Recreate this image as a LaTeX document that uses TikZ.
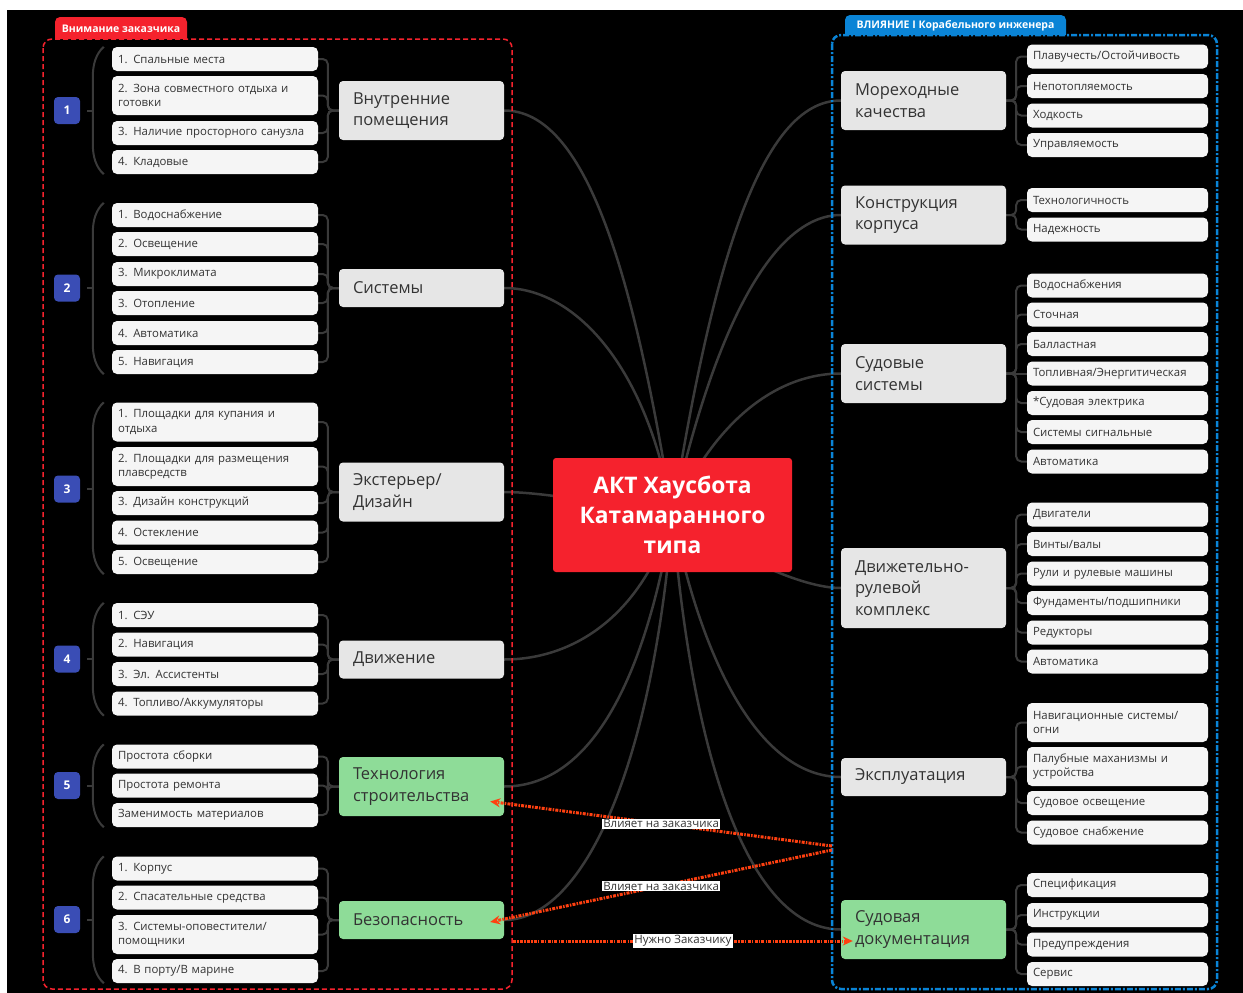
\documentclass[tikz,border=0pt]{standalone}
\usepackage{fontspec}
\setmainfont{Open Sans}
\usetikzlibrary{calc,arrows.meta}
\pgfdeclarelayer{bgl}
\pgfdeclarelayer{lines}
\pgfsetlayers{bgl,lines,main}
\definecolor{itemfill}{HTML}{F5F5F5}
\definecolor{catfill}{HTML}{E6E6E6}
\definecolor{greenfill}{HTML}{8EDC98}
\definecolor{txt}{HTML}{333333}
\definecolor{linec}{HTML}{3A3A3A}
\definecolor{badgeblue}{HTML}{3A4DB5}
\definecolor{redc}{HTML}{F5222D}
\definecolor{bluec}{HTML}{0A84D6}
\definecolor{relc}{HTML}{FF4010}
\tikzset{
  item/.style={fill=itemfill, rounded corners=5pt, minimum width=206pt, minimum height=24pt,
    text width=194pt, inner xsep=6pt, inner ysep=2pt, align=left,
    font=\fontsize{11.4}{14.5}\selectfont, text=txt},
  itemtwo/.style={item, minimum height=39pt},
  ritem/.style={item, minimum width=181pt, text width=169pt},
  ritemtwo/.style={ritem, minimum height=39pt},
  cat/.style={fill=catfill, rounded corners=4pt, minimum width=165pt, minimum height=38pt,
    text width=137pt, inner xsep=14pt, inner ysep=3pt, align=left,
    font=\fontsize{16.5}{21.5}\selectfont, text=txt},
  cattwo/.style={cat, minimum height=59pt},
  catg/.style={cat, fill=greenfill},
  catgtwo/.style={cattwo, fill=greenfill},
  badge/.style={fill=badgeblue, rounded corners=4pt, minimum width=26pt, minimum height=27pt,
    text=white, font=\fontsize{12}{14}\selectfont\bfseries, inner sep=0pt},
  conn/.style={draw=linec, line width=2pt, rounded corners=5pt},
  brk/.style={draw=linec, line width=2pt},
  branch/.style={draw=linec, line width=2.5pt},
  rel/.style={draw=relc, line width=3pt, dash pattern=on 3pt off 1.2pt on 1.5pt off 1.2pt,
    -{Stealth[length=10pt,width=9pt]}},
  rellab/.style={fill=white, text=txt, font=\fontsize{11.5}{13}\selectfont, inner xsep=1.5pt, inner ysep=1pt},
  tabtext/.style={text=white, font=\fontsize{10.5}{12}\selectfont\bfseries, inner sep=0pt}
}
\begin{document}
\begin{tikzpicture}[x=1pt,y=-1pt]
\useasboundingbox (0,0) rectangle (1243,993);
\begin{pgfonlayer}{bgl}
\fill[white] (0,0) rectangle (1243,993);
\fill[black] (7,10) rectangle (1243,993);
\end{pgfonlayer}

% frames and tabs
\draw[draw=redc, line width=1.5pt, dash pattern=on 5pt off 3pt, rounded corners=9pt] (43,39) rectangle (512,989);
\fill[redc, rounded corners=5pt] (55,39) -- (55,17) -- (187,17) -- (187,39);
\node[tabtext] (tabL) at (121,28.5) {Внимание заказчика};
\draw[draw=bluec, line width=2.5pt, dash pattern=on 6pt off 2pt on 2pt off 2pt, rounded corners=9pt] (832,35) rectangle (1217,989);
\fill[bluec, rounded corners=5pt] (845,35) -- (845,15) -- (1066,15) -- (1066,35);
\node[tabtext] (tabR) at (955.5,26) {ВЛИЯНИЕ I Корабельного инженера};

% central
\node[fill=redc, rounded corners=3pt, minimum width=239pt, minimum height=114pt, text=white,
  font=\fontsize{22.8}{30}\selectfont\bfseries, align=center] (ctr) at (672.5,515) {АКТ Хаусбота\\Катамаранного\\типа};

% left categories
\node[cattwo] (c1) at (421.5,110.5) {Внутренние\\помещения};
\node[cat] (c2) at (421.5,288) {Системы};
\node[cattwo] (c3) at (421.5,492) {Экстерьер/\\Дизайн};
\node[cat] (c4) at (421.5,659.5) {Движение};
\node[catgtwo] (c5) at (421.5,786.5) {Технология\\строительства};
\node[catg] (c6) at (421.5,920) {Безопасность};

% badges
\node[badge] (b1) at (67,110.5) {1};
\node[badge] (b2) at (67,288) {2};
\node[badge] (b3) at (67,489) {3};
\node[badge] (b4) at (67,659) {4};
\node[badge] (b5) at (67,785.5) {5};
\node[badge] (b6) at (67,919.5) {6};

% left items
\node[item] (l1a) at (215,59) {1. Спальные места};
\node[itemtwo] (l1b) at (215,95.5) {2. Зона совместного отдыха и\\готовки};
\node[item] (l1c) at (215,133) {3. Наличие просторного санузла};
\node[item] (l1d) at (215,162) {4. Кладовые};

\node[item] (l2a) at (215,215) {1. Водоснабжение};
\node[item] (l2b) at (215,244) {2. Освещение};
\node[item] (l2c) at (215,274) {3. Микроклимата};
\node[item] (l2d) at (215,303) {3. Отопление};
\node[item] (l2e) at (215,333) {4. Автоматика};
\node[item] (l2f) at (215,362) {5. Навигация};

\node[itemtwo] (l3a) at (215,422) {1. Площадки для купания и\\отдыха};
\node[itemtwo] (l3b) at (215,466.5) {2. Площадки для размещения\\плавсредств};
\node[item] (l3c) at (215,503) {3. Дизайн конструкций};
\node[item] (l3d) at (215,532.5) {4. Остекление};
\node[item] (l3e) at (215,562) {5. Освещение};

\node[item] (l4a) at (215,615) {1. СЭУ};
\node[item] (l4b) at (215,644.5) {2. Навигация};
\node[item] (l4c) at (215,674) {3. Эл. Ассистенты};
\node[item] (l4d) at (215,703.5) {4. Топливо/Аккумуляторы};

\node[item] (l5a) at (215,756.5) {Простота сборки};
\node[item] (l5b) at (215,785.5) {Простота ремонта};
\node[item] (l5c) at (215,815) {Заменимость материалов};

\node[item] (l6a) at (215,868.5) {1. Корпус};
\node[item] (l6b) at (215,897.5) {2. Спасательные средства};
\node[itemtwo] (l6c) at (215,934.5) {3. Системы-оповестители/\\помощники};
\node[item] (l6d) at (215,971) {4. В порту/В марине};

% right categories
\node[cattwo] (rc1) at (923.5,100.5) {Мореходные\\качества};
\node[cattwo] (rc2) at (923.5,215) {Конструкция\\корпуса};
\node[cattwo] (rc3) at (923.5,373.5) {Судовые\\системы};
\node[cat, minimum height=80pt] (rc4) at (923.5,588) {Движетельно-\\рулевой\\комплекс};
\node[cat] (rc5) at (923.5,777) {Эксплуатация};
\node[catgtwo] (rc6) at (923.5,929.5) {Судовая\\документация};

% right items
\node[ritem] (r1a) at (1117.5,56.5) {Плавучесть/Остойчивость};
\node[ritem] (r1b) at (1117.5,86) {Непотопляемость};
\node[ritem] (r1c) at (1117.5,115.5) {Ходкость};
\node[ritem] (r1d) at (1117.5,145) {Управляемость};

\node[ritem] (r2a) at (1117.5,200) {Технологичность};
\node[ritem] (r2b) at (1117.5,229.5) {Надежность};

\node[ritem] (r3a) at (1117.5,285.5) {Водоснабжения};
\node[ritem] (r3b) at (1117.5,314.5) {Сточная};
\node[ritem] (r3c) at (1117.5,344) {Балластная};
\node[ritem] (r3d) at (1117.5,373.5) {Топливная/Энергитическая};
\node[ritem] (r3e) at (1117.5,403) {*Судовая электрика};
\node[ritem] (r3f) at (1117.5,432) {Системы сигнальные};
\node[ritem] (r3g) at (1117.5,461.5) {Автоматика};

\node[ritem] (r4a) at (1117.5,514.5) {Двигатели};
\node[ritem] (r4b) at (1117.5,544) {Винты/валы};
\node[ritem] (r4c) at (1117.5,573.5) {Рули и рулевые машины};
\node[ritem] (r4d) at (1117.5,603) {Фундаменты/подшипники};
\node[ritem] (r4e) at (1117.5,632.5) {Редукторы};
\node[ritem] (r4f) at (1117.5,661.5) {Автоматика};

\node[ritemtwo] (r5a) at (1117.5,722.5) {Навигационные системы/\\огни};
\node[ritemtwo] (r5b) at (1117.5,766.5) {Палубные маханизмы и\\устройства};
\node[ritem] (r5c) at (1117.5,803) {Судовое освещение};
\node[ritem] (r5d) at (1117.5,832.5) {Судовое снабжение};

\node[ritem] (r6a) at (1117.5,885) {Спецификация};
\node[ritem] (r6b) at (1117.5,915) {Инструкции};
\node[ritem] (r6c) at (1117.5,944.5) {Предупреждения};
\node[ritem] (r6d) at (1117.5,974) {Сервис};

% connectors items -> categories
\begin{pgfonlayer}{lines}
\foreach \n in {l1a,l1b,l1c,l1d} \draw[conn] (\n.east) -| ($(c1.west)+(-11,0)$) -- (c1.west);
\foreach \n in {l2a,l2b,l2c,l2d,l2e,l2f} \draw[conn] (\n.east) -| ($(c2.west)+(-11,0)$) -- (c2.west);
\foreach \n in {l3a,l3b,l3c,l3d,l3e} \draw[conn] (\n.east) -| ($(c3.west)+(-11,0)$) -- (c3.west);
\foreach \n in {l4a,l4b,l4c,l4d} \draw[conn] (\n.east) -| ($(c4.west)+(-11,0)$) -- (c4.west);
\foreach \n in {l5a,l5b,l5c} \draw[conn] (\n.east) -| ($(c5.west)+(-11,0)$) -- (c5.west);
\foreach \n in {l6a,l6b,l6c,l6d} \draw[conn] (\n.east) -| ($(c6.west)+(-11,0)$) -- (c6.west);

\foreach \n in {r1a,r1b,r1c,r1d} \draw[conn] (\n.west) -| ($(rc1.east)+(10,0)$) -- (rc1.east);
\foreach \n in {r2a,r2b} \draw[conn] (\n.west) -| ($(rc2.east)+(10,0)$) -- (rc2.east);
\foreach \n in {r3a,r3b,r3c,r3e,r3f,r3g} \draw[conn] (\n.west) -| ($(rc3.east)+(10,0)$) -- (rc3.east);
\draw[conn] (r3d.west) -- (rc3.east);
\foreach \n in {r4a,r4b,r4c,r4d,r4e,r4f} \draw[conn] (\n.west) -| ($(rc4.east)+(10,0)$) -- (rc4.east);
\foreach \n in {r5a,r5b,r5c,r5d} \draw[conn] (\n.west) -| ($(rc5.east)+(10,0)$) -- (rc5.east);
\foreach \n in {r6a,r6b,r6c,r6d} \draw[conn] (\n.west) -| ($(rc6.east)+(10,0)$) -- (rc6.east);

% brackets and badge links
\foreach \f/\l/\b in {l1a/l1d/b1, l2a/l2f/b2, l3a/l3e/b3, l4a/l4d/b4, l5a/l5c/b5, l6a/l6d/b6}{
  \draw[brk] ($(\f.north west)+(-8,0)$) .. controls ($(\f.north west)+(-16,7)$) and ($(\f.north west)+(-19,18)$) .. ($(\f.north west)+(-19,30)$)
    -- ($(\l.south west)+(-19,-30)$) .. controls ($(\l.south west)+(-19,-18)$) and ($(\l.south west)+(-16,-7)$) .. ($(\l.south west)+(-8,0)$);
  \draw[brk] ($(\b.east)+(7,0)$) -- ($(\b.east)+(13,0)$);
}

% main branches
\draw[branch] (c1.east) .. controls +(80,0) and +(-40,-250) .. (ctr.center);
\draw[branch] (c2.east) .. controls +(70,0) and +(-25,-150) .. (ctr.center);
\draw[branch] (c3.east) .. controls +(40,0) and +(-60,-10) .. (ctr.center);
\draw[branch] (c4.east) .. controls +(70,0) and +(-30,100) .. (ctr.center);
\draw[branch] (c5.east) .. controls +(80,0) and +(-30,180) .. (ctr.center);
\draw[branch] (c6.east) .. controls +(80,0) and +(-20,250) .. (ctr.center);
\draw[branch] (rc1.west) .. controls +(-80,0) and +(40,-250) .. (ctr.center);
\draw[branch] (rc2.west) .. controls +(-70,0) and +(40,-180) .. (ctr.center);
\draw[branch] (rc3.west) .. controls +(-60,0) and +(45,-100) .. (ctr.center);
\draw[branch] (rc4.west) .. controls +(-40,0) and +(60,40) .. (ctr.center);
\draw[branch] (rc5.west) .. controls +(-80,0) and +(30,150) .. (ctr.center);
\draw[branch] (rc6.west) .. controls +(-90,0) and +(20,250) .. (ctr.center);
\end{pgfonlayer}

% relationships
\coordinate (fA) at (832,846);
\coordinate (fB) at (832,850);
\coordinate (fC) at (513,941);
\draw[rel] (fA) -- node[rellab] (labA) {Влияет на заказчика} ($(c5.east)+(-14,15)$);
\draw[rel] (fB) -- node[rellab] (labB) {Влияет на заказчика} ($(c6.east)+(-14,2)$);
\draw[rel] (fC) -- node[rellab] (labC) {Нужно Заказчику} ($(rc6.west)+(12,11.5)$);
\end{tikzpicture}
\end{document}
